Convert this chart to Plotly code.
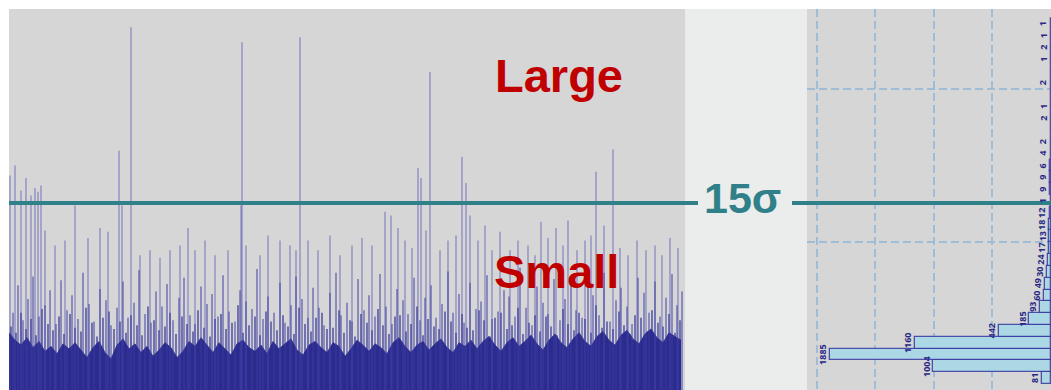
import numpy as np
import plotly.graph_objects as go

W, H = 1051, 390

# ---------------- left panel: detector trace (amplitude in sigma) ----------------
TRACE_LEN = 676          # samples across the trace window
SIGMA_CUT = 15           # threshold separating "large" from "small" events

# dense noise floor, one value every 6 samples
base_step = 6
base_env = [
    4.6, 4.0, 3.6, 4.2, 3.4, 3.9, 3.1, 3.5, 2.9, 3.7, 3.3, 3.8, 3.2, 2.6, 3.4, 3.9,
    3.0, 2.5, 3.6, 4.1, 3.3, 3.7, 3.0, 3.5, 2.7, 3.2, 3.8, 3.4, 2.6, 3.1, 3.9, 3.5,
    4.2, 3.6, 3.0, 3.8, 3.3, 2.8, 3.7, 4.0, 3.4, 3.1, 3.6, 2.9, 3.9, 3.3, 3.7, 4.1,
    3.2, 2.8, 3.6, 3.9, 3.4, 3.0, 3.8, 3.5, 2.7, 3.3, 4.0, 3.6, 3.1, 3.7, 3.4, 2.9,
    3.8, 4.2, 3.5, 3.0, 3.6, 3.9, 3.2, 3.7, 4.1, 3.4, 3.0, 3.8, 3.5, 4.0, 3.3, 3.9,
    4.3, 3.6, 3.1, 3.8, 4.2, 3.5, 3.9, 4.4, 3.7, 3.2, 4.0, 4.5, 3.8, 3.4, 4.1, 4.6,
    3.9, 3.5, 4.3, 4.7, 4.0, 3.6, 4.4, 4.8, 4.1, 3.7, 4.5, 4.9, 4.2, 3.8, 4.6, 4.3,
    4.0,
]

# fine ripple just above the floor
floor_pos = [
    2, 7, 12, 17, 22, 27, 33, 39, 44, 50, 55, 61, 66, 72, 77, 83, 88, 94, 100, 105,
    111, 117, 122, 128, 133, 139, 145, 150, 156, 161, 167, 173, 178, 184, 189, 195,
    201, 206, 212, 217, 223, 229, 234, 240, 246, 251, 257, 262, 268, 274, 279, 285,
    290, 296, 302, 307, 313, 318, 324, 330, 335, 341, 346, 352, 358, 363, 369, 374,
    380, 386, 391, 397, 402, 408, 414, 419, 425, 430, 436, 442, 447, 453, 458, 464,
    470, 475, 481, 486, 492, 498, 503, 509, 514, 520, 526, 531, 537, 542, 548, 554,
    559, 565, 570, 576, 582, 587, 593, 598, 604, 610, 615, 621, 626, 632, 638, 643,
    649, 654, 660, 666, 671,
]
floor_sigma = [
    5.1, 4.6, 6.2, 4.9, 5.7, 4.4, 6.5, 5.3, 4.8, 5.9, 4.5, 6.1, 5.0, 4.7, 6.6, 5.4, 4.3, 5.8, 6.3, 4.9,
    5.5, 4.6, 6.0, 5.2, 4.4, 6.7, 5.6, 4.8, 5.1, 6.2, 4.5, 5.9, 5.3, 4.7, 6.4, 5.0, 4.3, 5.7, 6.1, 4.9,
    5.4, 6.8, 4.6, 5.2, 5.9, 4.4, 6.3, 5.5, 4.8, 6.0, 5.1, 4.5, 6.6, 5.3, 4.7, 5.8, 6.2, 4.9, 5.0, 6.4,
    4.6, 5.6, 4.3, 6.1, 5.4, 4.8, 6.5, 5.2, 4.5, 5.9, 6.0, 4.7, 5.3, 6.7, 4.4, 5.7, 5.1, 4.9, 6.3, 5.5,
    4.6, 6.1, 5.0, 4.8, 6.4, 5.6, 4.3, 5.8, 6.2, 4.9, 5.2, 6.6, 4.5, 5.4, 6.0, 4.7, 5.9, 5.1, 4.4, 6.5,
    5.3, 4.8, 6.2, 5.7, 4.6, 6.8, 5.0, 5.5, 4.9, 6.3, 5.2, 4.5, 6.0, 5.8, 4.7, 6.4, 5.4, 5.1, 6.1, 4.6,
    5.6,
]

# small events riding on the floor
low_pos = [
    4, 9, 14, 19, 24, 30, 36, 41, 47, 52, 58, 63, 69, 74, 80, 85, 91, 97, 102, 108,
    114, 119, 125, 130, 136, 142, 147, 153, 158, 164, 170, 175, 181, 186, 192, 198,
    203, 209, 214, 220, 226, 231, 237, 243, 248, 254, 259, 265, 271, 276, 282, 287,
    293, 299, 304, 310, 315, 321, 327, 332, 338, 343, 349, 355, 360, 366, 371, 377,
    383, 388, 394, 399, 405, 411, 416, 422, 427, 433, 439, 444, 450, 455, 461, 467,
    472, 478, 483, 489, 495, 500, 506, 511, 517, 523, 528, 534, 539, 545, 551, 556,
    562, 567, 573, 579, 584, 590, 595, 601, 607, 612, 618, 623, 629, 635, 640, 646,
    651, 657, 663, 668, 673,
]
low_sigma = [
    6.2, 8.4, 5.6, 7.3, 9.1, 5.9, 6.8, 8.0, 5.3, 8.8, 6.4, 7.6, 5.7, 9.4, 6.9, 5.5, 8.1, 7.2, 5.2, 6.6,
    8.7, 5.8, 7.0, 9.6, 6.1, 5.4, 7.9, 6.7, 8.5, 5.6, 7.4, 9.0, 6.0, 5.3, 8.3, 6.9, 7.7, 5.9, 9.2, 6.3,
    5.5, 8.0, 7.1, 6.5, 9.7, 5.7, 7.5, 6.2, 8.6, 5.4, 6.8, 9.1, 7.3, 5.8, 8.2, 6.6, 5.2, 7.8, 9.4, 6.0,
    7.0, 5.5, 8.9, 6.4, 7.6, 5.9, 9.3, 6.7, 5.3, 8.1, 7.2, 6.1, 9.0, 5.6, 7.4, 8.4, 5.8, 6.9, 9.5, 6.2,
    7.7, 5.4, 8.6, 6.5, 7.1, 9.2, 5.7, 6.3, 8.0, 7.5, 5.9, 9.8, 6.6, 5.2, 8.3, 7.0, 6.1, 8.9, 5.6, 7.3,
    9.1, 6.4, 5.8, 8.5, 7.6, 6.0, 9.4, 5.5, 7.2, 8.2, 6.7, 5.3, 9.0, 7.8, 6.2, 8.7, 5.9, 7.4, 9.3, 6.8,
    7.9,
]

# medium events, still below the cut
mid_pos = [
    36, 46, 56, 79, 91, 99, 131, 141, 151, 161, 171, 179, 186, 196, 206, 219, 237, 251,
    259, 271, 281, 287, 299, 309, 321, 331, 343, 353, 363, 389, 396, 403, 417, 431, 439,
    447, 469, 476, 483, 491, 501, 509, 519, 526, 532, 539, 547, 554, 559, 568, 576, 582,
    595, 611, 619, 628, 637, 646, 653, 661, 669,
]
mid_sigma = [
    12.8, 11.6, 12.0, 12.2, 13.0, 12.7, 10.8, 11.2, 10.6, 11.2, 11.6, 13.0, 11.2, 12.0,
    10.8, 11.2, 11.6, 10.8, 12.4, 12.0, 11.6, 11.2, 12.0, 11.2, 12.4, 10.8, 11.6, 12.2,
    11.6, 13.0, 12.0, 11.4, 12.8, 11.2, 12.0, 12.4, 12.0, 13.2, 11.2, 12.7, 11.2, 12.0,
    11.6, 10.8, 13.5, 12.2, 13.0, 11.6, 13.6, 11.2, 12.0, 12.4, 13.2, 11.4, 10.8, 12.0,
    11.2, 11.6, 10.8, 12.2, 11.4,
]

# large events (around or above the cut)
tall_pos = [1, 6, 12, 17, 22, 26, 29, 32, 66, 110, 113, 122, 232, 233, 291,
            376, 382, 409, 412, 421, 453, 457, 461, 587, 604]
tall_sigma = [17.2, 18.0, 16.0, 17.0, 15.6, 16.2, 15.9, 16.4, 14.8, 19.2, 14.8, 29.1,
              14.8, 27.9, 28.3, 14.3, 14.0, 17.8, 17.0, 25.5, 18.7, 16.6, 14.0, 17.5, 19.3]

# ---------------- right panel: amplitude histogram ----------------
bin_index = list(range(31))
bin_counts = [81, 1004, 1885, 1160, 442, 185, 93, 60, 49, 30, 24, 17, 13, 18, 12, 1,
              9, 9, 6, 4, 2, 0, 2, 1, 0, 2, 0, 1, 2, 1, 1]
count_ticks = [500, 1000, 1500, 2000]
count_max = 2081

# ---------------- styling ----------------
PANEL_BG = "#d6d6d6"
GAP_BG = "#ebecec"
TEAL = "#2f8088"
RED = "#c00000"
NAVY = "rgb(44,44,142)"
SPIKE = "rgba(70,70,175,0.62)"
GRID = "rgba(150,185,215,0.85)"
LABEL_BLUE = "#2a2a86"

px_x = lambda v: v / W
px_y = lambda v: 1 - v / H
TOP = px_y(9)


def stems(pos, vals):
    xs, ys = [], []
    for p, v in zip(pos, vals):
        xs += [p, p, None]
        ys += [0, v, None]
    return xs, ys


fig = go.Figure()

base_x = np.arange(len(base_env)) * base_step
fig.add_trace(go.Scatter(
    x=base_x, y=base_env, mode="lines", fill="tozeroy",
    line=dict(color=NAVY, width=0.8), fillcolor=NAVY,
    xaxis="x", yaxis="y", hoverinfo="skip", showlegend=False,
))
for pos, vals, col, w in [
    (floor_pos, floor_sigma, "rgba(44,44,142,0.9)", 1.3),
    (low_pos, low_sigma, "rgba(55,55,160,0.8)", 1.2),
    (mid_pos, mid_sigma, SPIKE, 1.1),
    (tall_pos, tall_sigma, SPIKE, 1.1),
]:
    sx, sy = stems(pos, vals)
    fig.add_trace(go.Scatter(
        x=sx, y=sy, mode="lines", line=dict(color=col, width=w),
        xaxis="x", yaxis="y", hoverinfo="skip", showlegend=False,
    ))

fig.add_trace(go.Bar(
    x=bin_counts, y=bin_index, orientation="h", width=1,
    marker=dict(color="#acd8e6", line=dict(color="rgba(55,55,160,0.85)", width=1.3)),
    xaxis="x2", yaxis="y2", hoverinfo="skip", showlegend=False,
))

# grey gap between the two panels, and the sigma cut
shapes = [
    dict(type="rect", xref="paper", yref="paper", x0=px_x(685), x1=px_x(807),
         y0=0, y1=TOP, fillcolor=GAP_BG, line=dict(width=0), layer="below"),
    dict(type="line", xref="paper", yref="y", x0=px_x(9), x1=px_x(698),
         y0=SIGMA_CUT, y1=SIGMA_CUT, line=dict(color=TEAL, width=4)),
    dict(type="line", xref="paper", yref="y", x0=px_x(792), x1=1,
         y0=SIGMA_CUT, y1=SIGMA_CUT, line=dict(color=TEAL, width=4)),
]

label_common = dict(xref="paper", yref="paper", showarrow=False,
                    xanchor="center", yanchor="middle")
annotations = [
    dict(text="<b>Large</b>", x=px_x(559), y=px_y(76),
         font=dict(family="Liberation Sans", size=47, color=RED), **label_common),
    dict(text="<b>Small</b>", x=px_x(556), y=px_y(271),
         font=dict(family="Liberation Sans", size=47, color=RED), **label_common),
    dict(text="<b>%dσ</b>" % SIGMA_CUT, x=px_x(742), y=px_y(198),
         font=dict(family="Liberation Sans", size=43, color=TEAL), **label_common),
]

# count labels at the end of each histogram bar, reading upwards
for b, c in zip(bin_index, bin_counts):
    if c == 0:
        continue
    annotations.append(dict(
        text="<b>%d</b>" % c, x=c, y=b, xref="x2", yref="y2",
        showarrow=False, textangle=-90, xanchor="right", yanchor="middle",
        borderpad=0,
        font=dict(family="Noto Sans", size=9, color=LABEL_BLUE),
    ))

# 15 sigma sits at pixel row 203 of a 381-pixel-high panel
y_top = SIGMA_CUT * (H - 9) / (H - 203)

fig.update_layout(
    width=W, height=H, margin=dict(l=0, r=0, t=0, b=0),
    paper_bgcolor="white", plot_bgcolor=PANEL_BG,
    bargap=0, showlegend=False,
    shapes=shapes, annotations=annotations,
    xaxis=dict(domain=[px_x(9), px_x(685)], range=[0, TRACE_LEN], visible=False),
    yaxis=dict(domain=[0, TOP], range=[0, y_top], visible=False),
    xaxis2=dict(domain=[px_x(807), 1], range=[count_max, 0], anchor="y2",
                tickvals=count_ticks, showticklabels=False, ticks="",
                showgrid=True, gridcolor=GRID, gridwidth=1.5, griddash="8px,4px",
                zeroline=False, showline=False),
    yaxis2=dict(domain=[0, TOP], range=[-1.017, 31.27], anchor="x2",
                tickvals=[-1.5, 11.5, 24.5], showticklabels=False, ticks="",
                showgrid=True, gridcolor=GRID, gridwidth=1.5, griddash="8px,4px",
                zeroline=False, showline=False),
)

fig.write_html("out.html")
